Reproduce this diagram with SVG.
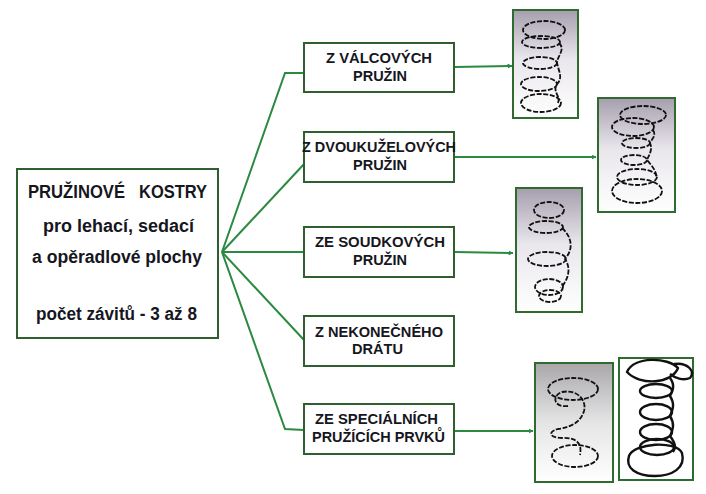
<svg xmlns="http://www.w3.org/2000/svg" width="706" height="494" viewBox="0 0 706 494">
<defs>
<style>
.box{fill:#fff;stroke:#2f5f2f;stroke-width:2}
.frame{stroke:#2f6a2f;stroke-width:2}
.con{fill:none;stroke:#2a8a40;stroke-width:2}
.t{font-family:"Liberation Sans",Arial,sans-serif;font-weight:bold;fill:#16161e;text-anchor:middle}
.m{font-size:18px}
.b{font-size:15px}
.coil{fill:none;stroke:#111;stroke-width:1.8;stroke-dasharray:5 1.6}
.solid{fill:none;stroke:#111;stroke-width:2.4;stroke-linejoin:round}
</style>
<linearGradient id="gl" x1="0" y1="0" x2="0" y2="1">
<stop offset="0" stop-color="#a69eae"/>
<stop offset="0.45" stop-color="#e9e6ec"/>
<stop offset="1" stop-color="#ffffff"/>
</linearGradient>
<linearGradient id="gg" x1="0" y1="0" x2="0" y2="1">
<stop offset="0" stop-color="#a9a7aa"/>
<stop offset="0.5" stop-color="#e6e5e6"/>
<stop offset="1" stop-color="#ffffff"/>
</linearGradient>
<marker id="ar" viewBox="0 0 10 10" refX="9" refY="5" markerWidth="5" markerHeight="5" orient="auto" markerUnits="userSpaceOnUse">
<path d="M0,0 L10,5 L0,10 Z" fill="#2a8a40"/>
</marker>
</defs>
<rect width="706" height="494" fill="#fff"/>

<g id="connectors">
<path class="con" d="M222,252 L285,73 L304,73"/>
<path class="con" d="M222,252 L305,163"/>
<path class="con" d="M222,252 L304,252"/>
<path class="con" d="M222,252 L304,340"/>
<path class="con" d="M222,252 L285,429 L304,430"/>
<path class="con" d="M455,67 L512,66" marker-end="url(#ar)"/>
<path class="con" d="M455,157 L596,157" marker-end="url(#ar)"/>
<path class="con" d="M455,252 L513,253" marker-end="url(#ar)"/>
<path class="con" d="M455,431 L533,431" marker-end="url(#ar)"/>
</g>

<g id="main">
<rect class="box" x="17" y="169" width="201" height="169"/>
<text class="t m"><tspan x="76.5" y="198" textLength="97" lengthAdjust="spacingAndGlyphs">PRUŽINOVÉ</tspan><tspan x="173" y="198" textLength="68" lengthAdjust="spacingAndGlyphs">KOSTRY</tspan></text>
<text class="t m" x="118.5" y="232" textLength="151" lengthAdjust="spacingAndGlyphs">pro lehací, sedací</text>
<text class="t m" x="117" y="263" textLength="170" lengthAdjust="spacingAndGlyphs">a opěradlové plochy</text>
<text class="t m" x="116.5" y="320" textLength="161" lengthAdjust="spacingAndGlyphs">počet závitů - 3 až 8</text>
</g>

<g id="n1">
<rect class="box" x="304" y="43" width="150" height="49"/>
<text class="t b" x="379" y="63" textLength="106" lengthAdjust="spacingAndGlyphs">Z VÁLCOVÝCH</text>
<text class="t b" x="380" y="81" textLength="54" lengthAdjust="spacingAndGlyphs">PRUŽIN</text>
</g>
<g id="n2">
<rect class="box" x="304" y="132" width="150" height="50"/>
<text class="t b" x="379" y="152" textLength="154" lengthAdjust="spacingAndGlyphs">Z DVOUKUŽELOVÝCH</text>
<text class="t b" x="380" y="170" textLength="54" lengthAdjust="spacingAndGlyphs">PRUŽIN</text>
</g>
<g id="n3">
<rect class="box" x="304" y="227" width="150" height="50"/>
<text class="t b" x="380" y="247" textLength="130" lengthAdjust="spacingAndGlyphs">ZE SOUDKOVÝCH</text>
<text class="t b" x="380" y="265" textLength="54" lengthAdjust="spacingAndGlyphs">PRUŽIN</text>
</g>
<g id="n4">
<rect class="box" x="304" y="316" width="150" height="50"/>
<text class="t b" x="379" y="337" textLength="128" lengthAdjust="spacingAndGlyphs">Z NEKONEČNÉHO</text>
<text class="t b" x="377.5" y="354" textLength="51" lengthAdjust="spacingAndGlyphs">DRÁTU</text>
</g>
<g id="n5">
<rect class="box" x="304" y="404" width="150" height="50"/>
<text class="t b" x="376.5" y="424" textLength="123" lengthAdjust="spacingAndGlyphs">ZE SPECIÁLNÍCH</text>
<text class="t b" x="378.5" y="442" textLength="133" lengthAdjust="spacingAndGlyphs">PRUŽÍCÍCH PRVKŮ</text>
</g>

<g id="img1">
<rect class="frame" x="513" y="10" width="65" height="108" fill="url(#gl)"/>
<ellipse class="coil" cx="544" cy="30" rx="21" ry="9"/>
<ellipse class="coil" cx="541" cy="42" rx="19" ry="6"/>
<ellipse class="coil" cx="540" cy="63" rx="17" ry="6"/>
<ellipse class="coil" cx="539" cy="84" rx="18" ry="7"/>
<ellipse class="coil" cx="541" cy="103" rx="20" ry="9"/>
<path class="coil" d="M559,43 C566,50 557,56 557,63 C559,72 563,78 557,84 C552,92 561,96 558,103"/>
</g>

<g id="img2">
<rect class="frame" x="598" y="98" width="77" height="114" fill="url(#gl)"/>
<ellipse class="coil" cx="643" cy="115" rx="23" ry="9"/>
<ellipse class="coil" cx="633" cy="127" rx="21" ry="9"/>
<ellipse class="coil" cx="636" cy="143" rx="14" ry="5"/>
<ellipse class="coil" cx="634" cy="160" rx="13" ry="5"/>
<ellipse class="coil" cx="637" cy="177" rx="20" ry="8"/>
<ellipse class="coil" cx="637" cy="191" rx="25" ry="12"/>
<path class="coil" d="M653,130 C657,136 651,140 650,143 C653,150 649,155 647,160 C653,167 657,172 656,178"/>
</g>

<g id="img3">
<rect class="frame" x="516" y="188" width="66" height="124" fill="url(#gl)"/>
<ellipse class="coil" cx="549" cy="210" rx="15" ry="8"/>
<ellipse class="coil" cx="546" cy="227" rx="17" ry="6"/>
<ellipse class="coil" cx="547" cy="259" rx="19" ry="7"/>
<ellipse class="coil" cx="549" cy="287" rx="14" ry="8"/>
<ellipse class="coil" cx="550" cy="296" rx="11" ry="6"/>
<path class="coil" d="M562,228 C573,238 573,250 565,259 C571,268 569,278 561,288"/>
</g>

<g id="img5a">
<rect class="frame" x="535" y="363" width="78" height="119" fill="url(#gg)"/>
<ellipse class="coil" cx="573" cy="389" rx="25" ry="11"/>
<path class="coil" d="M568,406 C554,408 551,396 562,392 C577,389 587,400 584,411 C581,421 573,427 558,429 C547,432 550,438 562,438 C579,437 582,446 580,455"/>
<ellipse class="coil" cx="575" cy="456" rx="23" ry="11"/>
</g>

<g id="img5b">
<rect class="frame" x="619" y="358" width="74" height="122" fill="#fff"/>
<path class="solid" d="M627,372 C634,356 668,357 678,368 C672,384 640,386 627,372 Z"/>
<path class="solid" d="M674,364 C688,362 696,372 690,378 C683,381 675,378 670,374"/>
<ellipse class="solid" cx="656" cy="391" rx="16" ry="7"/>
<ellipse class="solid" cx="656" cy="412" rx="16" ry="8"/>
<ellipse class="solid" cx="656" cy="432" rx="16" ry="8"/>
<ellipse class="solid" cx="657" cy="447" rx="17" ry="8"/>
<path class="solid" d="M629,456 C634,443 676,440 682,453 C686,468 672,476 655,476 C636,476 625,468 629,456 Z"/>
<path class="solid" d="M670,378 C676,386 672,392 670,396 C675,404 673,409 670,416 C675,424 673,430 670,436 C676,444 676,448 673,452"/>
</g>
</svg>
